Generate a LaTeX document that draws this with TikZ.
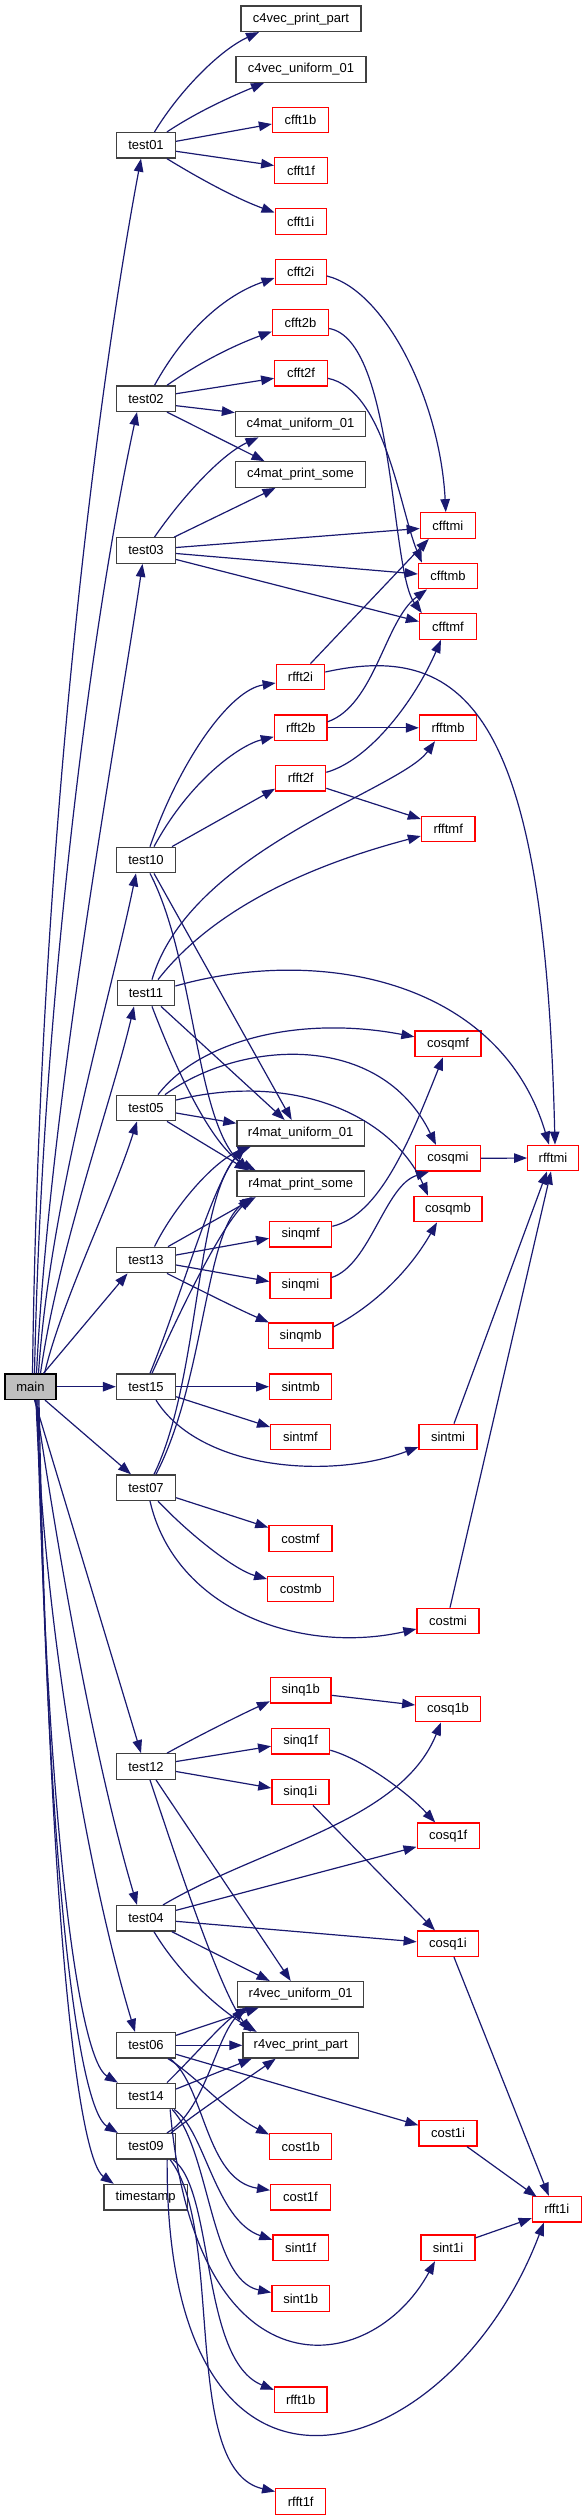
\documentclass[tikz,border=0pt]{standalone}
\usepackage{fontspec}
\setmainfont{Liberation Sans}
\usetikzlibrary{arrows.meta}
\definecolor{edgec}{HTML}{191970}
\definecolor{boxgray}{HTML}{404040}
\definecolor{mainfill}{HTML}{BFBFBF}
\newcommand\nodefnt{\fontsize{13}{15}\selectfont}
\tikzset{
  box/.style={draw=boxgray, line width=1.3pt, minimum height=25.5pt, inner sep=0pt, font=\nodefnt, fill=white},
  rbox/.style={box, draw=red},
  e/.style={draw=edgec, line width=1.2pt, -{Triangle[length=13pt,width=9.5pt]}}
}
\begin{document}
\begin{tikzpicture}[x=1pt,y=-1pt]
\useasboundingbox (0,0) rectangle (585,2520);
% ---------- nodes ----------
\node[box, minimum width=120pt] (c4vecpp) at (301,18.7) {c4vec\_print\_part};
\node[box, minimum width=130pt] (c4vecu) at (301,69.5) {c4vec\_uniform\_01};
\node[rbox, minimum width=56pt] (cfft1b) at (300.5,120) {cfft1b};
\node[box, minimum width=59pt] (test01) at (146,145.3) {test01};
\node[rbox, minimum width=52.5pt] (cfft1f) at (301,170.5) {cfft1f};
\node[rbox, minimum width=51pt] (cfft1i) at (300.7,221.5) {cfft1i};
\node[rbox, minimum width=51pt] (cfft2i) at (300.7,272) {cfft2i};
\node[rbox, minimum width=56pt] (cfft2b) at (300.5,322.5) {cfft2b};
\node[rbox, minimum width=52.5pt] (cfft2f) at (301,373.3) {cfft2f};
\node[box, minimum width=59pt] (test02) at (146,398.7) {test02};
\node[box, minimum width=130pt] (c4matu) at (300.5,424) {c4mat\_uniform\_01};
\node[box, minimum width=130pt] (c4matps) at (300.5,474.5) {c4mat\_print\_some};
\node[rbox, minimum width=55pt] (cfftmi) at (447.8,525.5) {cfftmi};
\node[box, minimum width=59pt] (test03) at (146,550.5) {test03};
\node[rbox, minimum width=59pt] (cfftmb) at (448,576) {cfftmb};
\node[rbox, minimum width=57pt] (cfftmf) at (448,626.5) {cfftmf};
\node[rbox, minimum width=48.4pt] (rfft2i) at (300.5,677) {rfft2i};
\node[rbox, minimum width=52.5pt] (rfft2b) at (300.7,727.8) {rfft2b};
\node[rbox, minimum width=57pt] (rfftmb) at (448,727.8) {rfftmb};
\node[rbox, minimum width=50pt] (rfft2f) at (300.7,778.3) {rfft2f};
\node[rbox, minimum width=53.5pt] (rfftmf) at (448.2,829) {rfftmf};
\node[box, minimum width=59pt] (test10) at (146,860) {test10};
\node[box, minimum width=57.5pt] (test11) at (146,993) {test11};
\node[rbox, minimum width=66pt] (cosqmf) at (448,1043.8) {cosqmf};
\node[box, minimum width=59pt] (test05) at (146,1108) {test05};
\node[box, minimum width=127.5pt] (r4matu) at (300.7,1133.3) {r4mat\_uniform\_01};
\node[rbox, minimum width=64.5pt] (cosqmi) at (448,1158.3) {cosqmi};
\node[rbox, minimum width=50.5pt] (rfftmi) at (553,1158) {rfftmi};
\node[box, minimum width=127.5pt] (r4matps) at (300.7,1183.7) {r4mat\_print\_some};
\node[rbox, minimum width=68pt] (cosqmb) at (448,1209) {cosqmb};
\node[rbox, minimum width=62pt] (sinqmf) at (300.7,1234.3) {sinqmf};
\node[box, minimum width=59pt] (test13) at (146,1260) {test13};
\node[rbox, minimum width=61pt] (sinqmi) at (300.5,1285.5) {sinqmi};
\node[rbox, minimum width=64.5pt] (sinqmb) at (300.7,1335.8) {sinqmb};
\node[box, draw=black, fill=mainfill, minimum width=51pt] (main) at (30.5,1386.7) {main};
\node[box, minimum width=59pt] (test15) at (146,1386.7) {test15};
\node[rbox, minimum width=62pt] (sintmb) at (300.7,1386.7) {sintmb};
\node[rbox, minimum width=59.5pt] (sintmf) at (300.4,1437) {sintmf};
\node[rbox, minimum width=58pt] (sintmi) at (448,1437) {sintmi};
\node[box, minimum width=59pt] (test07) at (146,1487.7) {test07};
\node[rbox, minimum width=63pt] (costmf) at (300.4,1538.5) {costmf};
\node[rbox, minimum width=66pt] (costmb) at (300.7,1589) {costmb};
\node[rbox, minimum width=62pt] (costmi) at (448,1621) {costmi};
\node[rbox, minimum width=60.5pt] (sinq1b) at (300.8,1690.3) {sinq1b};
\node[rbox, minimum width=64.5pt] (cosq1b) at (448,1709) {cosq1b};
\node[rbox, minimum width=58pt] (sinq1f) at (300.7,1741.2) {sinq1f};
\node[box, minimum width=59pt] (test12) at (146,1766.5) {test12};
\node[rbox, minimum width=57pt] (sinq1i) at (300.4,1792) {sinq1i};
\node[rbox, minimum width=62pt] (cosq1f) at (448.2,1835.8) {cosq1f};
\node[box, minimum width=59pt] (test04) at (146,1918.3) {test04};
\node[rbox, minimum width=61.5pt] (cosq1i) at (448,1943.8) {cosq1i};
\node[box, minimum width=126pt] (r4vecu) at (300.7,1994.3) {r4vec\_uniform\_01};
\node[box, minimum width=59pt] (test06) at (146,2045.3) {test06};
\node[box, minimum width=115.5pt] (r4vecpp) at (300.7,2045.3) {r4vec\_print\_part};
\node[box, minimum width=59pt] (test14) at (146,2096) {test14};
\node[rbox, minimum width=58pt] (cost1i) at (448,2133.2) {cost1i};
\node[box, minimum width=59pt] (test09) at (146,2146.3) {test09};
\node[rbox, minimum width=62pt] (cost1b) at (300.7,2146.5) {cost1b};
\node[box, minimum width=83.6pt] (timestamp) at (145.7,2197.2) {timestamp};
\node[rbox, minimum width=59.5pt] (cost1f) at (300.4,2197.2) {cost1f};
\node[rbox, minimum width=49pt] (rfft1i) at (556.8,2209.2) {rfft1i};
\node[rbox, minimum width=55.5pt] (sint1f) at (300.7,2247.8) {sint1f};
\node[rbox, minimum width=54pt] (sint1i) at (448,2247.8) {sint1i};
\node[rbox, minimum width=57.7pt] (sint1b) at (300.7,2298.5) {sint1b};
\node[rbox, minimum width=52.5pt] (rfft1b) at (300.7,2399.8) {rfft1b};
\node[rbox, minimum width=50pt] (rfft1f) at (300.7,2501.5) {rfft1f};
% ---------- main ----------
\draw[e] ([xshift=2]main.north) .. controls (40,800) and (105,350) .. ([xshift=-5]test01.south);
\draw[e] ([xshift=4]main.north) .. controls (42,1000) and (92,620) .. ([xshift=-9]test02.south);
\draw[e] ([xshift=6]main.north) .. controls (50,1100) and (115,750) .. ([xshift=-3.5]test03.south);
\draw[e] ([xshift=8]main.north) .. controls (50,1200) and (110,1000) .. ([xshift=-10]test10.south);
\draw[e] ([xshift=10]main.north) .. controls (58,1250) and (112,1100) .. ([xshift=-12]test11.south);
\draw[e] ([xshift=14]main.north) .. controls (62,1300) and (112,1200) .. ([xshift=-9]test05.south);
\draw[e] ([xshift=13]main.north) -- ([xshift=-18.5]test13.south);
\draw[e] (main.east) -- (test15.west);
\draw[e] ([xshift=14.5]main.south) -- ([xshift=-15]test07.north);
\draw[e] ([xshift=4]main.south) -- ([xshift=-5]test12.north);
\draw[e] ([xshift=5]main.south) .. controls (65,1600) and (100,1780) .. ([xshift=-9]test04.north);
\draw[e] ([xshift=5.5]main.south) .. controls (45,1650) and (95,1900) .. ([xshift=-11]test06.north);
\draw[e] ([xshift=6.5]main.south) .. controls (48,1850) and (80,2060) .. ([xshift=2]test14.north west);
\draw[e] ([xshift=7.5]main.south) .. controls (48,1900) and (80,2110) .. ([xshift=2]test09.north west);
\draw[e] ([xshift=8.5]main.south) .. controls (50,1950) and (80,2160) .. ([xshift=-32]timestamp.north);
% ---------- test01 ----------
\draw[e] ([xshift=8.5]test01.north) .. controls (180,90) and (220,50) .. ([xshift=-42]c4vecpp.south);
\draw[e] ([xshift=21]test01.north) .. controls (200,110) and (235,95) .. ([xshift=-37]c4vecu.south);
\draw[e] ([yshift=4]test01.east) -- ([yshift=-4]cfft1b.west);
\draw[e] ([yshift=-6]test01.east) -- ([yshift=5]cfft1f.west);
\draw[e] ([xshift=21]test01.south) .. controls (205,182) and (240,200) .. ([yshift=9]cfft1i.west);
% ---------- test02 ----------
\draw[e] ([xshift=8.5]test02.north) .. controls (185,330) and (225,295) .. ([yshift=-6]cfft2i.west);
\draw[e] ([xshift=21]test02.north) .. controls (200,362) and (235,345) .. ([yshift=-9]cfft2b.west);
\draw[e] ([yshift=5]test02.east) -- ([yshift=-5]cfft2f.west);
\draw[e] ([yshift=-7]test02.east) -- ([yshift=-2]c4matu.north west);
\draw[e] ([xshift=21]test02.south) -- ([xshift=-36]c4matps.north);
% ---------- cfft2x ----------
\draw[e] ([yshift=-4]cfft2i.east) .. controls (385,290) and (440,400) .. ([xshift=-2]cfftmi.north);
\draw[e] ([yshift=-6]cfft2b.east) .. controls (395,340) and (390,570) .. ([xshift=3]cfftmf.north west);
\draw[e] ([yshift=-5]cfft2f.east) .. controls (385,390) and (400,510) .. ([xshift=4]cfftmb.north west);
% ---------- test03 ----------
\draw[e] ([xshift=8.5]test03.north) .. controls (180,500) and (220,455) .. ([xshift=-42]c4matu.south);
\draw[e] ([xshift=-2]test03.north east) -- ([xshift=-25]c4matps.south);
\draw[e] ([yshift=3]test03.east) -- ([yshift=-3]cfftmi.west);
\draw[e] ([yshift=-3]test03.east) -- ([yshift=2]cfftmb.west);
\draw[e] ([yshift=-9]test03.east) -- ([yshift=5]cfftmf.west);
% ---------- rfft2x ----------
\draw[e] ([xshift=10]rfft2i.north) -- ([xshift=-19]cfftmi.south);
\draw[e] ([yshift=5]rfft2i.east) .. controls (470,640) and (545,720) .. ([xshift=2]rfftmi.north);
\draw[e] ([yshift=6]rfft2b.east) .. controls (375,705) and (385,620) .. ([xshift=-21]cfftmb.south);
\draw[e] (rfft2b.east) -- (rfftmb.west);
\draw[e] ([yshift=6]rfft2f.east) .. controls (370,760) and (415,700) .. ([xshift=-7]cfftmf.south);
\draw[e] ([yshift=-10]rfft2f.east) -- ([yshift=10]rfftmf.west);
% ---------- test10 ----------
\draw[e] ([xshift=4]test10.north) .. controls (180,760) and (230,690) .. ([yshift=-6]rfft2i.west);
\draw[e] ([xshift=8]test10.north) .. controls (190,780) and (240,745) .. ([yshift=-9]rfft2b.west);
\draw[e] ([xshift=26]test10.north) -- ([yshift=3]rfft2f.south west);
\draw[e] ([xshift=8]test10.south) -- ([xshift=-9]r4matu.north);
\draw[e] ([xshift=4]test10.south) .. controls (195,960) and (195,1120) .. ([xshift=-52]r4matps.north);
% ---------- test11 ----------
\draw[e] ([xshift=6]test11.north) .. controls (190,850) and (400,790) .. ([xshift=-13]rfftmb.south);
\draw[e] ([xshift=12]test11.north) .. controls (220,900) and (330,860) .. ([yshift=-7]rfftmf.west);
\draw[e] ([yshift=7]test11.east) .. controls (320,945) and (500,980) .. ([xshift=-4]rfftmi.north);
\draw[e] ([xshift=15]test11.south) -- ([xshift=-16]r4matu.north);
\draw[e] ([xshift=6]test11.south) .. controls (180,1080) and (215,1150) .. ([xshift=-45]r4matps.north);
% ---------- test05 ----------
\draw[e] ([xshift=12]test05.north) .. controls (200,1040) and (300,1015) .. ([yshift=7]cosqmf.west);
\draw[e] ([xshift=19]test05.north) .. controls (240,1040) and (380,1030) .. ([xshift=-12]cosqmi.north);
\draw[e] ([yshift=8]test05.east) .. controls (300,1070) and (395,1120) .. ([xshift=-20]cosqmb.north);
\draw[e] ([yshift=-5]test05.east) -- ([yshift=10]r4matu.west);
\draw[e] ([xshift=21]test05.south) -- ([xshift=-53]r4matps.north);
% ---------- test13 ----------
\draw[e] ([xshift=8.5]test13.north) .. controls (175,1205) and (215,1160) .. ([xshift=-50]r4matu.south);
\draw[e] ([xshift=22]test13.north) -- ([xshift=-45]r4matps.south);
\draw[e] ([yshift=5]test13.east) -- ([yshift=-4]sinqmf.west);
\draw[e] ([yshift=-5]test13.east) -- ([yshift=4]sinqmi.west);
\draw[e] ([xshift=21]test13.south) .. controls (200,1290) and (240,1310) .. ([xshift=1]sinqmb.north west);
% ---------- sinqmx ----------
\draw[e] ([yshift=8]sinqmf.east) .. controls (380,1215) and (410,1140) .. ([xshift=-5]cosqmf.south);
\draw[e] ([yshift=8]sinqmi.east) .. controls (370,1265) and (385,1185) .. ([xshift=-19]cosqmi.south);
\draw[e] ([yshift=9]sinqmb.east) .. controls (375,1305) and (410,1270) .. ([xshift=-11]cosqmb.south);
\draw[e] (cosqmi.east) -- (rfftmi.west);
% ---------- test15 ----------
\draw[e] (test15.east) -- (sintmb.west);
\draw[e] ([yshift=-10]test15.east) -- ([yshift=10]sintmf.west);
\draw[e] ([xshift=10]test15.south) .. controls (200,1470) and (330,1480) .. ([yshift=-10]sintmi.west);
\draw[e] ([xshift=4]test15.north) .. controls (180,1300) and (210,1190) .. ([xshift=-57]r4matu.south);
\draw[e] ([xshift=6]test15.north) .. controls (185,1300) and (220,1230) .. ([xshift=-50]r4matps.south);
\draw[e] ([xshift=6]sintmi.north) -- ([xshift=-6]rfftmi.south);
% ---------- test07 ----------
\draw[e] ([xshift=8]test07.north) .. controls (200,1380) and (195,1200) .. ([xshift=-55]r4matu.south);
\draw[e] ([xshift=10]test07.north) .. controls (205,1380) and (205,1230) .. ([xshift=-48]r4matps.south);
\draw[e] ([yshift=-10]test07.east) -- ([yshift=11]costmf.west);
\draw[e] ([xshift=12]test07.south) .. controls (190,1535) and (235,1570) .. ([yshift=10]costmb.west);
\draw[e] ([xshift=4]test07.south) .. controls (175,1610) and (300,1655) .. ([yshift=-8]costmi.west);
\draw[e] ([xshift=2]costmi.north) -- ([xshift=-2]rfftmi.south);
% ---------- test12 ----------
\draw[e] ([xshift=21]test12.north) .. controls (200,1735) and (240,1715) .. ([yshift=-11]sinq1b.west);
\draw[e] ([yshift=5]test12.east) -- ([yshift=-5]sinq1f.west);
\draw[e] ([yshift=-5]test12.east) -- ([yshift=4]sinq1i.west);
\draw[e] ([xshift=10]test12.south) -- ([xshift=-10]r4vecu.north);
\draw[e] ([xshift=4]test12.south) .. controls (180,1870) and (220,1990) .. ([xshift=-50]r4vecpp.north);
\draw[e] ([yshift=-5]sinq1b.east) -- ([yshift=4]cosq1b.west);
\draw[e] ([yshift=-9]sinq1f.east) .. controls (365,1760) and (410,1795) .. ([xshift=-13]cosq1f.north);
\draw[e] ([xshift=12.6]sinq1i.south) -- ([xshift=-13]cosq1i.north);
% ---------- test04 ----------
\draw[e] ([xshift=17]test04.north) .. controls (263,1846) and (401,1822) .. ([xshift=-7]cosq1b.south);
\draw[e] ([yshift=8]test04.east) -- ([yshift=-11]cosq1f.west);
\draw[e] ([yshift=-3]test04.east) -- ([yshift=2]cosq1i.west);
\draw[e] ([xshift=26]test04.south) -- ([xshift=-31]r4vecu.north);
\draw[e] ([xshift=8]test04.south) .. controls (180,1975) and (220,2010) .. ([xshift=-44]r4vecpp.north);
\draw[e] ([xshift=6]cosq1i.south) -- ([xshift=-8]rfft1i.north);
% ---------- test06 ----------
\draw[e] ([yshift=10]test06.east) -- ([xshift=-42]r4vecu.south);
\draw[e] (test06.east) -- (r4vecpp.west);
\draw[e] ([yshift=-9]test06.east) -- ([yshift=8]cost1i.west);
\draw[e] ([xshift=22]test06.south) .. controls (195,2075) and (230,2115) .. ([yshift=12]cost1b.west);
\draw[e] ([xshift=24]test06.south) .. controls (205,2085) and (205,2180) .. ([yshift=7]cost1f.west);
\draw[e] ([xshift=19]cost1i.south) -- ([xshift=5,yshift=-1]rfft1i.north west);
% ---------- test14 ----------
\draw[e] ([xshift=21]test14.north) .. controls (200,2050) and (225,2020) .. ([xshift=-52]r4vecu.south);
\draw[e] ([yshift=7]test14.east) -- ([xshift=-49]r4vecpp.south);
\draw[e] ([xshift=-2]test14.south east) .. controls (205,2130) and (215,2220) .. ([yshift=8]sint1f.west);
\draw[e] ([xshift=-4]test14.south east) .. controls (210,2150) and (210,2280) .. ([yshift=6]sint1b.west);
\draw[e] ([xshift=-6]test14.south east) .. controls (195,2400) and (370,2380) .. ([xshift=-13]sint1i.south);
\draw[e] ([yshift=10]sint1i.east) -- ([yshift=-9]rfft1i.west);
% ---------- test09 ----------
\draw[e] ([xshift=21]test09.north) .. controls (205,2110) and (215,2040) .. ([xshift=-56]r4vecu.south);
\draw[e] ([xshift=25]test09.north) .. controls (200,2110) and (245,2080) .. ([xshift=-25]r4vecpp.south);
\draw[e] ([xshift=-3]test09.south east) .. controls (215,2190) and (200,2360) .. ([yshift=10]rfft1b.west);
\draw[e] ([xshift=-6]test09.south east) .. controls (225,2230) and (180,2470) .. ([yshift=10]rfft1f.west);
\draw[e] ([xshift=-9]test09.south east) .. controls (165,2560) and (450,2470) .. ([xshift=-13]rfft1i.south);
\end{tikzpicture}
\end{document}
